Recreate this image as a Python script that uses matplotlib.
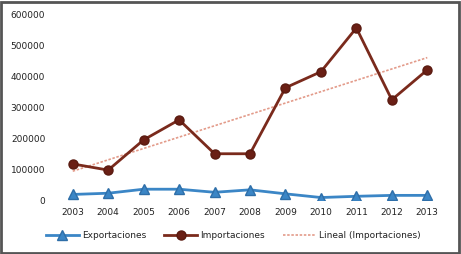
import numpy as np
import matplotlib
matplotlib.use("Agg")
import matplotlib.pyplot as plt
from matplotlib.patches import Rectangle

years = [2003, 2004, 2005, 2006, 2007, 2008, 2009, 2010, 2011, 2012, 2013]
exportaciones = [18000, 22000, 35000, 35000, 25000, 33000, 20000, 8000, 12000, 15000, 15000]
importaciones = [117000, 97000, 195000, 260000, 150000, 150000, 364000, 416000, 558000, 325000, 422000]
yticks = [0, 100000, 200000, 300000, 400000, 500000, 600000]

plt.rcParams['font.family'] = ['DejaVu Sans']

fig = plt.figure(figsize=(4.61, 2.54), dpi=100)
ax = fig.add_axes([55/461, 1-200/254, 390/461, 185/254])

x = np.arange(len(years))
c = np.polyfit(x, importaciones, 1)
trend = np.polyval(c, x)

ax.plot(x, exportaciones, color='#3B86C6', lw=2, marker='^', ms=7.5,
        mfc='#3B86C6', mec='#2E6EA8', label='Exportaciones', zorder=3)
ax.plot(x, importaciones, color='#7A2A1C', lw=2, marker='o', ms=6.5,
        mfc='#6A1F15', mec='#5A1A10', label='Importaciones', zorder=3)
ax.plot(x, trend, color='#E39B8A', lw=1.2, ls=(0, (1.5, 1)),
        label='Lineal (Importaciones)', zorder=2)

ax.set_xlim(-0.5, len(years) - 0.5)
ax.set_ylim(0, 600000)
ax.set_xticks(x)
ax.set_xticklabels([str(y) for y in years])
ax.set_yticks(yticks)
ax.set_yticklabels([str(v) for v in yticks])
ax.tick_params(length=0, labelsize=6.5, colors='#222222', pad=7)
ax.tick_params(axis='x', pad=6)
for s in ax.spines.values():
    s.set_visible(False)

leg = fig.legend(loc='center', bbox_to_anchor=(233/461, 1-236/254), ncol=3,
                 frameon=False, fontsize=6.5, handlelength=3.7,
                 columnspacing=2.0, handletextpad=0.3)
for t in leg.get_texts():
    t.set_color('#222222')

fig.patches.append(Rectangle((0.002, 0.004), 0.994, 0.99, transform=fig.transFigure,
                             fill=False, ec='#555555', lw=2))

fig.savefig('out.png', dpi=100)
